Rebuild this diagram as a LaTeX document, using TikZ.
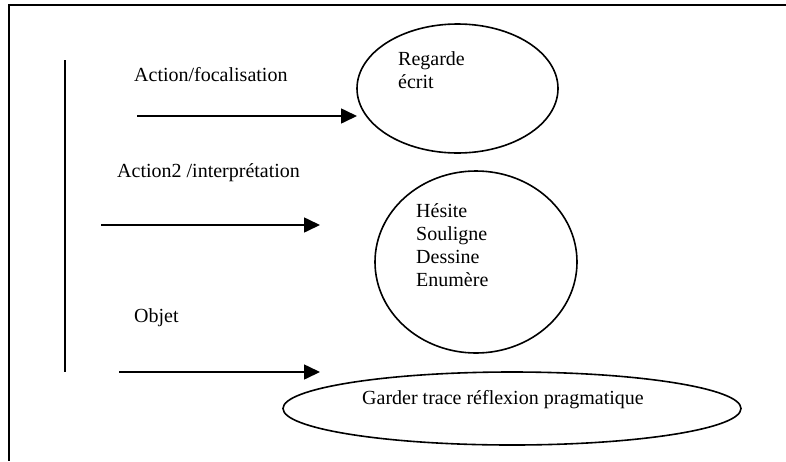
\documentclass[tikz,border=0pt]{standalone}
\usepackage{fontspec}
\setmainfont{Liberation Serif}
\usetikzlibrary{arrows.meta,shapes.geometric}
\begin{document}
\begin{tikzpicture}[x=1pt,y=-1pt,
  lbl/.style={inner sep=0pt,anchor=west,font=\fontsize{20}{23}\selectfont},
  bubble/.style={draw,line width=1.6pt,ellipse,inner sep=0pt},
  flow/.style={line width=1.6pt,-{Triangle[length=16pt,width=15pt]}},
  rule/.style={line width=2pt}]
\useasboundingbox (0,0) rectangle (786,461);
% frame
\coordinate (fTL) at (9,5);
\coordinate (fTR) at (786,5);
\coordinate (fBL) at (9,461);
\draw[rule] (fTR) -- (fTL) -- (fBL);
% vertical bar
\coordinate (vT) at (65,60);
\coordinate (vB) at (65,372);
\draw[rule] (vT) -- (vB);
% ellipses
\node[bubble,minimum width=201pt,minimum height=129pt] (e1) at (457.5,88.5) {};
\node[bubble,minimum width=202pt,minimum height=182pt] (e2) at (476,262) {};
\node[bubble,minimum width=458pt,minimum height=73pt] (e3) at (512,408.5) {};
% ellipse texts
\node[lbl,align=left,anchor=north west] (t1) at (398,51) {Regarde\\écrit};
\node[lbl,align=left,anchor=north west] (t2) at (416,203) {Hésite\\Souligne\\Dessine\\Enumère};
\node[lbl] (t3) at (362,400) {Garder trace réflexion pragmatique};
% labels
\node[lbl] (l1) at (134,75) {Action/focalisation};
\node[lbl] (l2) at (117,173) {Action2 /interprétation};
\node[lbl] (l3) at (134,318) {Objet};
% arrows
\coordinate (a1s) at (137,116);
\coordinate (a1e) at (357,116);
\coordinate (a2s) at (101,225);
\coordinate (a2e) at (320,225);
\coordinate (a3s) at (119,372);
\coordinate (a3e) at (320,372);
\draw[flow] (a1s) -- (a1e);
\draw[flow] (a2s) -- (a2e);
\draw[flow] (a3s) -- (a3e);
\end{tikzpicture}
\end{document}
